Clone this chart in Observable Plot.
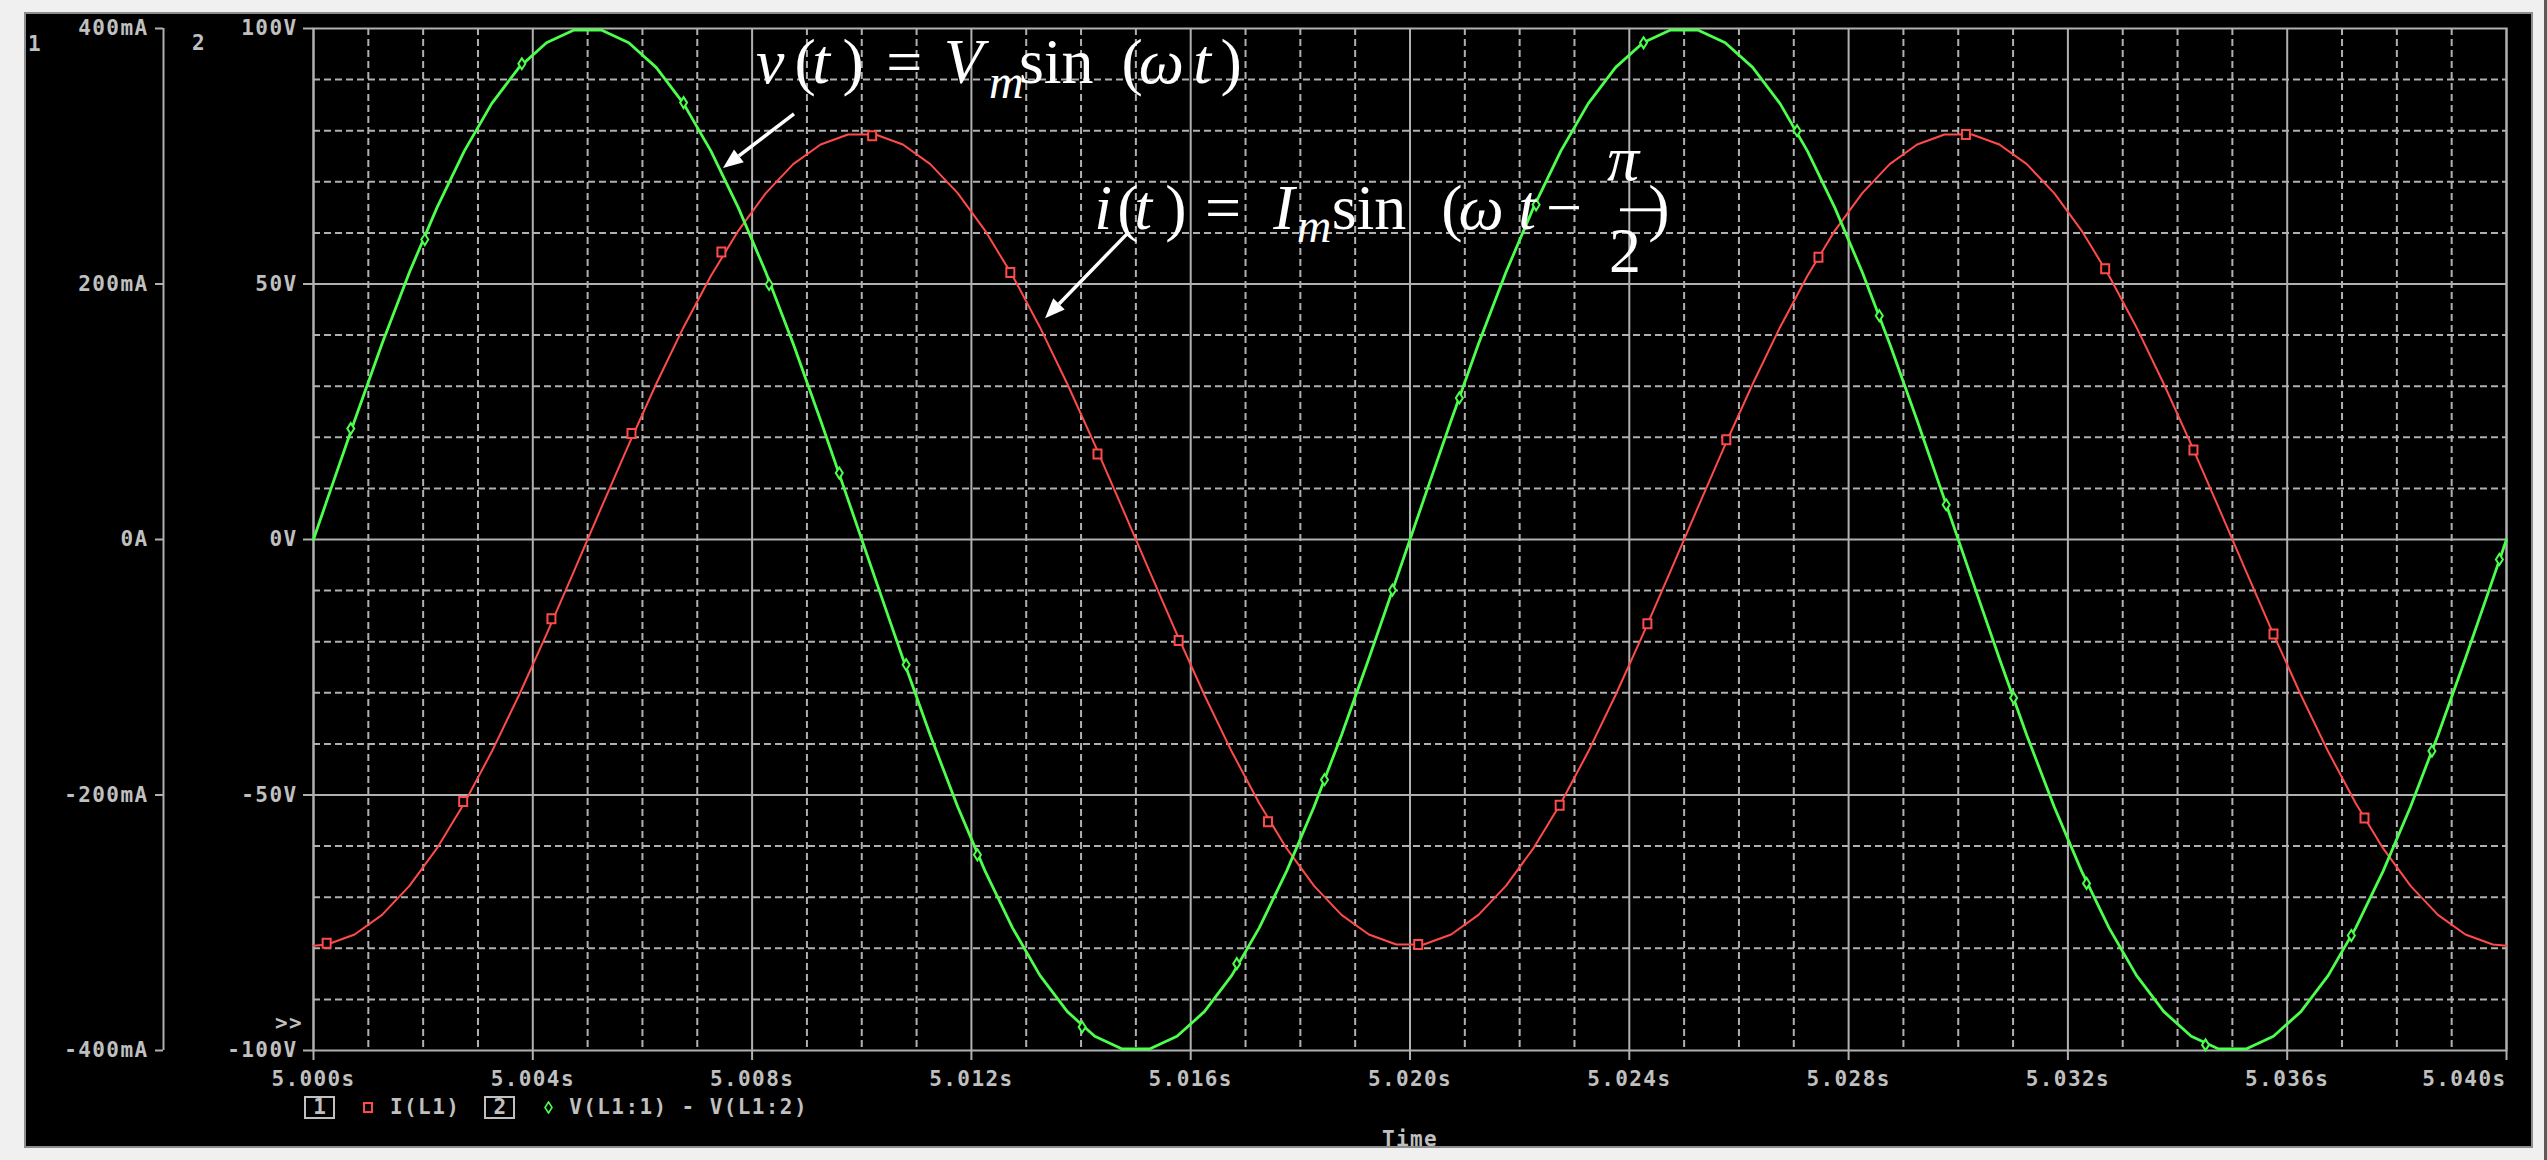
<!DOCTYPE html>
<html lang="en">
<head>
<meta charset="utf-8">
<title>I(L1) and V(L1:1) - V(L1:2)</title>
<script src="https://cdn.jsdelivr.net/npm/d3@7"></script>
<script src="https://cdn.jsdelivr.net/npm/@observablehq/plot@0.6"></script>
<style>
  html, body { margin: 0; padding: 0; background: #f0f0f0; }
  #screen { position: relative; width: 2547px; height: 1160px; overflow: hidden; background: #f0f0f0; }
  #panel { position: absolute; left: 24px; top: 12px; width: 2505px; height: 1132px; background: #000; border: 2px solid #8c8c8c; }
  #edge { position: absolute; left: 2544px; top: 0; width: 3px; height: 1160px; background: #5a5a5a; }
  .layer { position: absolute; left: 0; top: 0; }
  .mono { position: absolute; font-family: "DejaVu Sans Mono", monospace; font-weight: bold; font-size: 21px;
          letter-spacing: 1.4px; line-height: 1; color: #c0c0c0; white-space: pre; }
  #legend { left: 304px; top: 1096px; height: 23px; display: flex; align-items: center; }
  #legend .box { box-sizing: border-box; width: 31px; height: 23px; border: 2px solid #c0c0c0;
                 display: flex; align-items: center; justify-content: center; letter-spacing: 0; }
  #legend svg { display: block; }
</style>
</head>
<body>
<div id="screen">
  <div id="panel"></div>
  <div id="edge"></div>
</div>
<script>
// ---- time axis (seconds) ----
const xDomain = [5.000, 5.040];
const xTickValues = [5.000, 5.004, 5.008, 5.012, 5.016, 5.020, 5.024, 5.028, 5.032, 5.036, 5.040];
const xTickLabels = ["5.000s", "5.004s", "5.008s", "5.012s", "5.016s", "5.020s", "5.024s", "5.028s", "5.032s", "5.036s", "5.040s"];

// ---- axis 1: inductor current (mA) ----
const iDomain = [-400, 400];
const iTickValues = [-400, -200, 0, 200, 400];
const iTickLabels = ["-400mA", "-200mA", "0A", "200mA", "400mA"];

// ---- axis 2: inductor voltage (V) ----
const vDomain = [-100, 100];
const vTickValues = [-100, -50, 0, 50, 100];
const vTickLabels = ["-100V", "-50V", "0V", "50V", "100V"];

// ---- trace samples ----
const traceT = [
  5.00000,
  5.00025, 5.00075, 5.00125, 5.00175, 5.00225, 5.00275, 5.00325, 5.00375, 5.00425, 5.00475,
  5.00525, 5.00575, 5.00625, 5.00675, 5.00725, 5.00775, 5.00825, 5.00875, 5.00925, 5.00975,
  5.01025, 5.01075, 5.01125, 5.01175, 5.01225, 5.01275, 5.01325, 5.01375, 5.01425, 5.01475,
  5.01525, 5.01575, 5.01625, 5.01675, 5.01725, 5.01775, 5.01825, 5.01875, 5.01925, 5.01975,
  5.02025, 5.02075, 5.02125, 5.02175, 5.02225, 5.02275, 5.02325, 5.02375, 5.02425, 5.02475,
  5.02525, 5.02575, 5.02625, 5.02675, 5.02725, 5.02775, 5.02825, 5.02875, 5.02925, 5.02975,
  5.03025, 5.03075, 5.03125, 5.03175, 5.03225, 5.03275, 5.03325, 5.03375, 5.03425, 5.03475,
  5.03525, 5.03575, 5.03625, 5.03675, 5.03725, 5.03775, 5.03825, 5.03875, 5.03925, 5.03975,
  5.04000
];
// V(L1:1) - V(L1:2), volts
const traceV = [
  0,
  7.8, 23.3, 38.3, 52.3, 64.9, 76.0, 85.3, 92.4, 97.2, 99.7,
  99.7, 97.2, 92.4, 85.3, 76.0, 64.9, 52.3, 38.3, 23.3, 7.8,
  -7.8, -23.3, -38.3, -52.3, -64.9, -76.0, -85.3, -92.4, -97.2, -99.7,
  -99.7, -97.2, -92.4, -85.3, -76.0, -64.9, -52.3, -38.3, -23.3, -7.8,
  7.8, 23.3, 38.3, 52.3, 64.9, 76.0, 85.3, 92.4, 97.2, 99.7,
  99.7, 97.2, 92.4, 85.3, 76.0, 64.9, 52.3, 38.3, 23.3, 7.8,
  -7.8, -23.3, -38.3, -52.3, -64.9, -76.0, -85.3, -92.4, -97.2, -99.7,
  -99.7, -97.2, -92.4, -85.3, -76.0, -64.9, -52.3, -38.3, -23.3, -7.8,
  0
];
// I(L1), milliamps
const traceI = [
  -318,
  -317.0, -309.2, -293.8, -271.1, -241.8, -206.5, -166.2, -121.7, -74.2, -25.0,
  25.0, 74.2, 121.7, 166.2, 206.5, 241.8, 271.1, 293.8, 309.2, 317.0,
  317.0, 309.2, 293.8, 271.1, 241.8, 206.5, 166.2, 121.7, 74.2, 25.0,
  -25.0, -74.2, -121.7, -166.2, -206.5, -241.8, -271.1, -293.8, -309.2, -317.0,
  -317.0, -309.2, -293.8, -271.1, -241.8, -206.5, -166.2, -121.7, -74.2, -25.0,
  25.0, 74.2, 121.7, 166.2, 206.5, 241.8, 271.1, 293.8, 309.2, 317.0,
  317.0, 309.2, 293.8, 271.1, 241.8, 206.5, 166.2, 121.7, 74.2, 25.0,
  -25.0, -74.2, -121.7, -166.2, -206.5, -241.8, -271.1, -293.8, -309.2, -317.0,
  -318
];

// ---- trace markers ----
const iMarkT = [5.00024, 5.00273, 5.00434, 5.00580, 5.00744, 5.01019, 5.01271, 5.01430, 5.01578, 5.01741,
                5.02015, 5.02273, 5.02433, 5.02577, 5.02745, 5.03014, 5.03268, 5.03429, 5.03575, 5.03741];
const iMarkI = [-316, -205, -62, 83, 225, 316, 209, 67, -79, -221,
                -317, -208, -66, 78, 221, 317, 212, 70, -74, -218];
const vMarkT = [5.00068, 5.00203, 5.00380, 5.00675, 5.00831, 5.00959, 5.01081, 5.01211, 5.01402, 5.01684,
                5.01844, 5.01968, 5.02090, 5.02230, 5.02426, 5.02706, 5.02856, 5.02978, 5.03101, 5.03234,
                5.03451, 5.03717, 5.03864, 5.03987];
const vMarkV = [21.7, 58.7, 93.1, 85.5, 49.9, 13.0, -24.5, -61.7, -95.4, -83.0,
                -47.0, -9.9, 27.7, 65.5, 97.2, 80.0, 43.8, 6.8, -31.0, -67.3,
                -98.9, -77.5, -41.4, -3.9];

// ---- legend ----
const seriesNames = ["I(L1)", "V(L1:1) - V(L1:2)"];
const seriesColors = ["#ff4a4a", "#4cff4c"];

// ---- equation notes (anchor in time / volts) ----
const noteAnchorT = [5.00834, 5.01441];
const noteAnchorV = [89.2, 60.7];
const arrowFromT = [5.008773, 5.014883];
const arrowFromV = [83.2, 60.1];
const arrowToT = [5.007478, 5.013352];
const arrowToV = [72.6, 43.2];

// ---------------------------------------------------------------
const RED = seriesColors[0], GREEN = seriesColors[1];
const GRID = "#b0b0b0", TEXT = "#c0c0c0";

const rows = traceT.map((t, k) => ({t, v: traceV[k], i: traceI[k]}));
const iMarks = iMarkT.map((t, k) => ({t, i: iMarkI[k]}));
const vMarks = vMarkT.map((t, k) => ({t, v: vMarkV[k]}));

const xLabel = new Map(xTickValues.map((d, k) => [d, xTickLabels[k]]));
const iLabel = new Map(iTickValues.map((d, k) => [d, iTickLabels[k]]));
const vLabel = new Map(vTickValues.map((d, k) => [d, vTickLabels[k]]));

// dashed minor grid: every 1 ms and every 40 mA (10 V)
const xMinor = d3.range(1, 40).filter(k => k % 4 !== 0).map(k => 5 + k / 1000);
const iMinor = d3.range(-360, 400, 40).filter(d => d % 200 !== 0);
const iMajor = [-200, 0, 200];

// PSpice-style hollow markers
const squareSymbol = {draw(ctx) { ctx.rect(-4, -4.5, 8, 9); }};
const diamondSymbol = {draw(ctx) {
  ctx.moveTo(0, -5.5); ctx.lineTo(3.5, 0); ctx.lineTo(0, 5.5); ctx.lineTo(-3.5, 0); ctx.closePath();
}};

const common = {
  width: 2547, height: 1160,
  marginLeft: 313, marginRight: 41, marginTop: 28, marginBottom: 110,
  style: {
    background: "transparent", color: TEXT, overflow: "visible",
    fontFamily: '"DejaVu Sans Mono", monospace', fontSize: "21px", fontWeight: "bold", letterSpacing: "1.4px"
  }
};

const lastTick = xTickValues[xTickValues.length - 1];

// Layer 1: grid, time axis, current axis and the I(L1) trace
const plotA = Plot.plot({
  ...common,
  x: {domain: xDomain},
  y: {domain: iDomain},
  marks: [
    Plot.gridX(xMinor, {stroke: GRID, strokeOpacity: 1, strokeWidth: 2, strokeDasharray: "7,4"}),
    Plot.gridY(iMinor, {stroke: GRID, strokeOpacity: 1, strokeWidth: 2, strokeDasharray: "7,4"}),
    Plot.gridX(xTickValues, {stroke: GRID, strokeOpacity: 1, strokeWidth: 2}),
    Plot.gridY(iMajor, {stroke: GRID, strokeOpacity: 1, strokeWidth: 2}),
    Plot.frame({stroke: GRID, strokeWidth: 2}),
    Plot.axisX(xTickValues.slice(0, -1), {
      tickSize: 10, tickPadding: 11, strokeWidth: 2, stroke: GRID,
      tickFormat: d => xLabel.get(d),
      label: "Time", labelAnchor: "center", labelOffset: 95, labelArrow: "none"
    }),
    // the last label sits flush with the right edge of the frame
    Plot.axisX([lastTick], {
      tickSize: 10, tickPadding: 11, strokeWidth: 2, stroke: GRID, textAnchor: "end",
      tickFormat: d => xLabel.get(d), label: null
    }),
    Plot.ruleX([xDomain[0]], {dx: -150, stroke: GRID, strokeWidth: 2}),
    Plot.axisY(iTickValues, {
      anchor: "left", dx: -150, tickSize: 8, tickPadding: 7, strokeWidth: 2, stroke: GRID,
      tickFormat: d => iLabel.get(d), label: null
    }),
    Plot.line(rows, {x: "t", y: "i", stroke: RED, strokeWidth: 2}),
    Plot.dot(iMarks, {x: "t", y: "i", symbol: squareSymbol, stroke: RED, strokeWidth: 2, fill: "#000"})
  ]
});
plotA.classList.add("layer");

// Layer 2: voltage axis and the V(L1:1) - V(L1:2) trace
const plotB = Plot.plot({
  ...common,
  x: {domain: xDomain, axis: null},
  y: {domain: vDomain},
  marks: [
    Plot.axisY(vTickValues, {
      anchor: "left", tickSize: 10, tickPadding: 6, strokeWidth: 2, stroke: GRID,
      tickFormat: d => vLabel.get(d), label: null
    }),
    Plot.line(rows, {x: "t", y: "v", stroke: GREEN, strokeWidth: 2.8}),
    Plot.dot(vMarks, {x: "t", y: "v", symbol: diamondSymbol, stroke: GREEN, strokeWidth: 2, fill: "#000"})
  ]
});
plotB.classList.add("layer");

const screenEl = document.getElementById("screen");
screenEl.appendChild(plotA);
screenEl.appendChild(plotB);

// ---- equation notes drawn in data space of the voltage layer ----
function scaleFn(s) {
  if (s && typeof s.apply === "function") return v => s.apply(v);
  const [d0, d1] = s.domain, [r0, r1] = s.range;
  return v => r0 + (v - d0) / (d1 - d0) * (r1 - r0);
}
const sx = scaleFn(plotB.scale("x"));
const sy = scaleFn(plotB.scale("y"));

const NOTE_SIZE = 64;
// glyph runs: [text, x offset, y offset, italic, relative size]
const noteRuns = [
  [["v", 0, 0, true], ["(", 35, 0], ["t", 51, 0, true], [")", 83, 0], ["=", 134, 0],
   ["V", 193, 0, true], ["m", 236, 15, true, 0.75], ["sin", 286, 0], ["(", 362, 0],
   ["\u03c9", 391, 0, true], ["t", 432, 0, true], [")", 461, 0]],
  [["i", 0, 0, true], ["(", 25, 0], ["t", 40, 0, true], [")", 73, 0], ["=", 120, 0],
   ["I", 181, 0, true], ["m", 211, 13, true, 0.75], ["sin", 266, 0], ["(", 349, 0],
   ["\u03c9", 378, 0, true], ["t", 424, 0, true], ["\u2212", 461, 0],
   ["\u03c0", 520, -49, true], ["2", 522, 43], [")", 556, 0]]
];
// fraction bar of the second note: [x start, x end, y offset]
const noteBars = [null, [517, 559, -19]];

const svgB = d3.select(plotB);
const notes = svgB.append("g")
  .attr("fill", "#ffffff")
  .style("font-family", '"Liberation Serif", "DejaVu Serif", serif')
  .style("font-size", NOTE_SIZE + "px")
  .style("font-weight", "normal")
  .style("letter-spacing", "0");

noteRuns.forEach((runs, n) => {
  const x0 = sx(noteAnchorT[n]), y0 = sy(noteAnchorV[n]);
  const g = notes.append("g").attr("transform", `translate(${x0},${y0})`);
  const text = g.append("text");
  for (const [txt, dx, dy, italic, rel] of runs) {
    text.append("tspan")
      .attr("x", dx).attr("y", dy)
      .style("font-style", italic ? "italic" : "normal")
      .style("font-size", `${NOTE_SIZE * (rel || 1)}px`)
      .text(txt);
  }
  const bar = noteBars[n];
  if (bar) g.append("rect").attr("x", bar[0]).attr("y", bar[2] - 1.5).attr("width", bar[1] - bar[0]).attr("height", 3);

  // arrow pointing at the trace
  const x1 = sx(arrowFromT[n]), y1 = sy(arrowFromV[n]);
  const x2 = sx(arrowToT[n]), y2 = sy(arrowToV[n]);
  const a = Math.atan2(y2 - y1, x2 - x1), len = 20, half = 8;
  const bx = x2 - len * Math.cos(a), by = y2 - len * Math.sin(a);
  const px = -Math.sin(a) * half, py = Math.cos(a) * half;
  notes.append("line").attr("x1", x1).attr("y1", y1).attr("x2", bx).attr("y2", by)
    .attr("stroke", "#fff").attr("stroke-width", 3.5);
  notes.append("path").attr("d", `M${x2},${y2}L${bx + px},${by + py}L${bx - px},${by - py}Z`);
});

// ---- axis numbers, overflow mark and legend ----
function addText(txt, left, top) {
  const el = document.createElement("div");
  el.className = "mono";
  el.style.left = left + "px";
  el.style.top = top + "px";
  el.textContent = txt;
  screenEl.appendChild(el);
  return el;
}
addText("1", 28, 34);
addText("2", 192, 33);
addText(">>", 275, 1013);

const legend = document.createElement("div");
legend.id = "legend";
legend.className = "mono";
const markerSvg = [
  `<svg width="10" height="11" viewBox="-5 -5.5 10 11"><rect x="-4" y="-4.5" width="8" height="9" fill="none" stroke="${RED}" stroke-width="2"/></svg>`,
  `<svg width="9" height="13" viewBox="-4.5 -6.5 9 13"><path d="M0,-5.5L3.5,0L0,5.5L-3.5,0Z" fill="none" stroke="${GREEN}" stroke-width="1.6"/></svg>`
];
const gaps = [[28, 17, 24], [29, 16, 0]];
seriesNames.forEach((name, k) => {
  const box = document.createElement("span");
  box.className = "box";
  box.textContent = String(k + 1);
  box.style.marginRight = gaps[k][0] + "px";
  const mk = document.createElement("span");
  mk.innerHTML = markerSvg[k];
  mk.style.marginRight = gaps[k][1] + "px";
  const lab = document.createElement("span");
  lab.textContent = name;
  lab.style.marginRight = gaps[k][2] + "px";
  legend.append(box, mk, lab);
});
screenEl.appendChild(legend);
</script>
</body>
</html>
